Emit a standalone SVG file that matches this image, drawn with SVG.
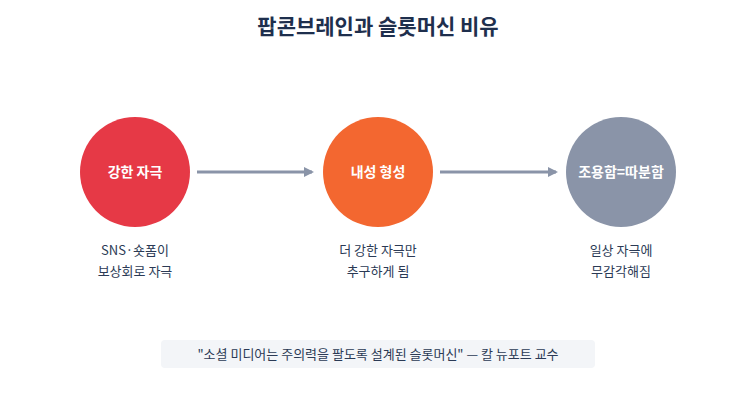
<svg xmlns="http://www.w3.org/2000/svg" width="756" height="420" viewBox="0 0 756 420">
<style>
text{font-family:"Noto Sans CJK KR","Noto Sans",sans-serif}
.t{font-size:21px;font-weight:bold;fill:#1e2f4d}
.n{font-size:14px;font-weight:bold;fill:#fff}
.l{font-size:13px;fill:#2b3a55}
.c{stroke:#8a94a8;stroke-width:3;fill:none}
</style>
<defs><marker id="a" markerWidth="10" markerHeight="10" refX="8" refY="5" orient="auto" markerUnits="userSpaceOnUse"><path d="M0,0 L10,5 L0,10 Z" fill="#8a94a8"/></marker></defs>
<rect width="756" height="420" fill="#fff"/>
<text class="t" x="378" y="34" text-anchor="middle">팝콘브레인과 슬롯머신 비유</text>
<g id="connectors">
<line class="c" x1="197" y1="172" x2="312" y2="172" marker-end="url(#a)"/>
<line class="c" x1="440" y1="172" x2="556" y2="172" marker-end="url(#a)"/>
</g>
<g id="n1"><circle cx="135" cy="172" r="55" fill="#e63946"/><text class="n" x="135" y="177" text-anchor="middle">강한 자극</text>
<text class="l" x="135" y="255" text-anchor="middle">SNS·숏폼이</text><text class="l" x="135" y="276" text-anchor="middle">보상회로 자극</text></g>
<g id="n2"><circle cx="378" cy="172" r="55" fill="#f36730"/><text class="n" x="378" y="177" text-anchor="middle">내성 형성</text>
<text class="l" x="378" y="255" text-anchor="middle">더 강한 자극만</text><text class="l" x="378" y="276" text-anchor="middle">추구하게 됨</text></g>
<g id="n3"><circle cx="621" cy="172" r="55" fill="#8a94a8"/><text class="n" x="621" y="177" text-anchor="middle">조용함=따분함</text>
<text class="l" x="621" y="255" text-anchor="middle">일상 자극에</text><text class="l" x="621" y="276" text-anchor="middle">무감각해짐</text></g>
<g id="quote"><rect x="161" y="340" width="434" height="28" rx="4" fill="#f3f5f8"/>
<text class="l" x="378" y="359" text-anchor="middle">"소셜 미디어는 주의력을 팔도록 설계된 슬롯머신" — 칼 뉴포트 교수</text></g>
</svg>
